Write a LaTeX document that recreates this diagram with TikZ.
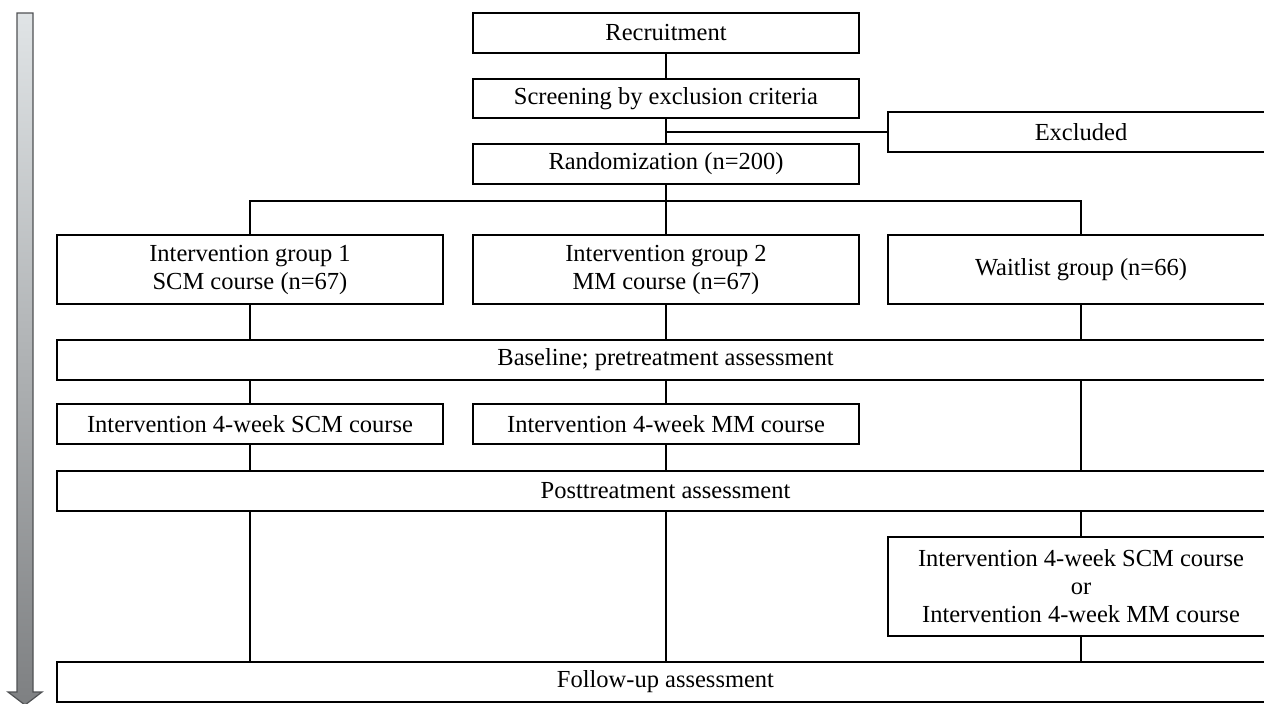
\documentclass[tikz,border=0pt]{standalone}
\usepackage{fontspec}
\setmainfont{Liberation Serif}
\definecolor{arrowtop}{HTML}{E0E4E6}
\definecolor{arrowbot}{HTML}{7E8082}
\definecolor{arrowline}{HTML}{505254}
\begin{document}
\begin{tikzpicture}[x=1pt, y=-1pt,
    box/.style={draw, line width=2pt, inner sep=0pt, align=center,
        font=\fontsize{24.5}{28}\selectfont},
    colbox/.style={box, minimum width=386pt},
    widebox/.style={box, minimum width=1217pt, minimum height=40pt},
    link/.style={line width=2pt}]
    \useasboundingbox (0,0) rectangle (1264,704);
    \clip (0,0) rectangle (1264,704);

    % Time arrow (left)
    \shade[top color=arrowtop, bottom color=arrowbot, draw=arrowline, line width=1.2pt]
        (17,13) -- (33,13) -- (33,692) -- (42,692) -- (25,705) -- (8,692) -- (17,692) -- cycle;

    % Enrollment
    \node[colbox, minimum height=40pt] (recruit) at (666,33) {Recruitment};
    \node[colbox, minimum height=39pt] (screen) at (666,98.5) {Screening by exclusion criteria};
    \node[colbox, minimum height=40pt] (excluded) at (1081,132) {Excluded};
    \node[colbox, minimum height=40pt] (random) at (666,164) {Randomization (n=200)};

    % Groups
    \node[colbox, minimum height=69pt] (grp1) at (250,269.5) {Intervention group 1\\SCM course (n=67)};
    \node[colbox, minimum height=69pt] (grp2) at (666,269.5) {Intervention group 2\\MM course (n=67)};
    \node[colbox, minimum height=69pt] (wait) at (1081,269.5) {Waitlist group (n=66)};

    % Assessments and courses
    \node[widebox] (base) at (665.5,359.5) {Baseline; pretreatment assessment};
    \node[colbox, minimum height=40pt] (scm) at (250,424) {Intervention 4-week SCM course};
    \node[colbox, minimum height=40pt] (mm) at (666,424) {Intervention 4-week MM course};
    \node[widebox] (post) at (665.5,491) {Posttreatment assessment};
    \node[colbox, minimum height=99pt] (late) at (1081,586.5)
        {Intervention 4-week SCM course\\or\\Intervention 4-week MM course};
    \node[widebox] (follow) at (665.5,682) {Follow-up assessment};

    % Connectors
    \coordinate (split) at (666,201);
    \draw[link] (recruit.south) -- (screen.north);
    \draw[link] (screen.south) -- (random.north);
    \draw[link] (screen.south |- excluded.west) -- (excluded.west);
    \draw[link] (random.south) -- (split);
    \draw[link] (grp1.north) -- (grp1.north |- split) -- (wait.north |- split) -- (wait.north);
    \draw[link] (split) -- (grp2.north);
    \draw[link] (grp1.south) -- (grp1.south |- base.north);
    \draw[link] (grp2.south) -- (grp2.south |- base.north);
    \draw[link] (wait.south) -- (wait.south |- base.north);
    \draw[link] (scm.north |- base.south) -- (scm.north);
    \draw[link] (mm.north |- base.south) -- (mm.north);
    \draw[link] (wait.south |- base.south) -- (wait.south |- post.north);
    \draw[link] (scm.south) -- (scm.south |- post.north);
    \draw[link] (mm.south) -- (mm.south |- post.north);
    \draw[link] (scm.south |- post.south) -- (scm.south |- follow.north);
    \draw[link] (mm.south |- post.south) -- (mm.south |- follow.north);
    \draw[link] (late.north |- post.south) -- (late.north);
    \draw[link] (late.south) -- (late.south |- follow.north);
\end{tikzpicture}
\end{document}
